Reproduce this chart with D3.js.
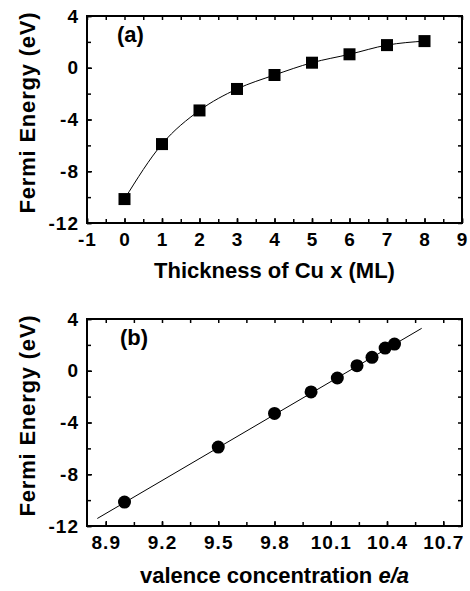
<!DOCTYPE html>
<html>

<head>
    <meta charset="utf-8">
    <title>Fermi Energy</title>
    <script src="https://d3js.org/d3.v7.min.js"></script>
</head>
<style>
    body {
        margin: 0;
        background: white;
    }

    .tick text {
        font-family: "Liberation Sans", Arial, sans-serif;
        font-weight: bold;
        font-size: 19px;
        letter-spacing: 1px;
        fill: black;
    }

    .label {
        font-family: "Liberation Sans", Arial, sans-serif;
        font-weight: bold;
        font-size: 22px;
        fill: black;
    }
</style>

<body>
    <svg id="chart"></svg>
    <script>
        // values
        const thickness = [0, 1, 2, 3, 4, 5, 6, 7, 8];
        const fermiEnergy = [-10.15, -5.9, -3.3, -1.64, -0.56, 0.39, 1.04, 1.75, 2.06];
        const valence = [9.0, 9.5, 9.8, 9.995, 10.135, 10.24, 10.32, 10.39, 10.44];

        // straight fit in panel (b), two end points
        const fitX = [8.855, 10.585];
        const fitY = [-11.42, 3.28];

        const yTicks = [-12, -8, -4, 0, 4];
        const yMinor = [-12, -10, -8, -6, -4, -2, 0, 2, 4];
        const xTicksA = [-1, 0, 1, 2, 3, 4, 5, 6, 7, 8, 9];
        const xMinorA = d3.range(-1, 9.01, 0.5);
        const xTicksB = [8.9, 9.2, 9.5, 9.8, 10.1, 10.4, 10.7];
        const xMinorB = d3.range(8.9, 10.8, 0.15);

        var width = 470,
            height = 591;

        var svg = d3.select("#chart")
            .attr("width", width)
            .attr("height", height)
            .style("display", "block");

        // plain hyphen for negative numbers, like the original
        const intFmt = d => String(d);

        function panel(opt) {
            var x = d3.scaleLinear().domain(opt.xDomain).range([opt.left, opt.right]);
            var y = d3.scaleLinear().domain([-12, 4]).range([opt.bottom, opt.top]);
            var g = svg.append("g");

            // minor ticks on all four sides, pointing inward
            g.append("g").attr("transform", "translate(0," + opt.bottom + ")")
                .call(d3.axisBottom(x).tickValues(opt.xMinor).tickSize(-4).tickFormat(""));
            g.append("g").attr("transform", "translate(0," + opt.top + ")")
                .call(d3.axisTop(x).tickValues(opt.xMinor).tickSize(-4).tickFormat(""));
            g.append("g").attr("transform", "translate(" + opt.left + ",0)")
                .call(d3.axisLeft(y).tickValues(yMinor).tickSize(-4).tickFormat(""));
            g.append("g").attr("transform", "translate(" + opt.right + ",0)")
                .call(d3.axisRight(y).tickValues(yMinor).tickSize(-4).tickFormat(""));

            // labelled axes
            g.append("g").attr("transform", "translate(0," + opt.bottom + ")")
                .call(d3.axisBottom(x).tickValues(opt.xTicks).tickSize(-5).tickPadding(10)
                    .tickFormat(opt.xFormat));
            g.append("g").attr("transform", "translate(" + opt.left + ",0)")
                .call(d3.axisLeft(y).tickValues(yTicks).tickSize(-5).tickPadding(8)
                    .tickFormat(intFmt));

            g.selectAll(".domain").remove();
            g.selectAll(".tick line").attr("stroke", "black").attr("stroke-width", 1.5);

            // frame
            g.append("rect")
                .attr("x", opt.left).attr("y", opt.top)
                .attr("width", opt.right - opt.left).attr("height", opt.bottom - opt.top)
                .attr("fill", "none").attr("stroke", "black").attr("stroke-width", 2);

            // y label
            g.append("text").attr("class", "label")
                .attr("transform", "translate(35," + ((opt.top + opt.bottom) / 2 - 7) + ") rotate(-90)")
                .attr("text-anchor", "middle")
                .style("letter-spacing", "0.8px")
                .text("Fermi Energy (eV)");

            // panel tag
            g.append("text").attr("class", "label")
                .attr("x", opt.tagX).attr("y", opt.top + 26)
                .style("font-size", "22px")
                .text(opt.tag);

            return { g: g, x: x, y: y };
        }

        // (a) Fermi energy vs Cu thickness
        var a = panel({
            left: 87, right: 462, top: 16, bottom: 223,
            xDomain: [-1, 9], xTicks: xTicksA, xMinor: xMinorA,
            xFormat: intFmt, tag: "(a)", tagX: 117
        });

        var ptsA = thickness.map((t, i) => [t, fermiEnergy[i]]);
        a.g.append("path")
            .datum(ptsA)
            .attr("fill", "none")
            .attr("stroke", "black")
            .attr("stroke-width", 1)
            .attr("d", d3.line().x(d => a.x(d[0])).y(d => a.y(d[1])).curve(d3.curveMonotoneX));

        a.g.selectAll("rect.pt")
            .data(ptsA)
            .enter()
            .append("rect")
            .attr("class", "pt")
            .attr("x", d => a.x(d[0]) - 6)
            .attr("y", d => a.y(d[1]) - 6)
            .attr("width", 12)
            .attr("height", 12)
            .attr("fill", "black");

        a.g.append("text").attr("class", "label")
            .attr("x", (87 + 462) / 2).attr("y", 278)
            .attr("text-anchor", "middle")
            .text("Thickness of Cu x (ML)");

        // (b) Fermi energy vs valence concentration
        var b = panel({
            left: 87, right: 462, top: 319, bottom: 526,
            xDomain: [8.8, 10.8], xTicks: xTicksB, xMinor: xMinorB,
            xFormat: d3.format(".1f"), tag: "(b)", tagX: 120
        });

        b.g.append("path")
            .datum(fitX.map((v, i) => [v, fitY[i]]))
            .attr("fill", "none")
            .attr("stroke", "black")
            .attr("stroke-width", 1)
            .attr("d", d3.line().x(d => b.x(d[0])).y(d => b.y(d[1])));

        b.g.selectAll("circle")
            .data(valence.map((v, i) => [v, fermiEnergy[i]]))
            .enter()
            .append("circle")
            .attr("cx", d => b.x(d[0]))
            .attr("cy", d => b.y(d[1]))
            .attr("r", 6.5)
            .attr("fill", "black");

        var xl = b.g.append("text").attr("class", "label")
            .attr("x", (87 + 462) / 2).attr("y", 583)
            .attr("text-anchor", "middle");
        xl.append("tspan").text("valence concentration ");
        xl.append("tspan").style("font-style", "italic").text("e/a");
    </script>
</body>

</html>
